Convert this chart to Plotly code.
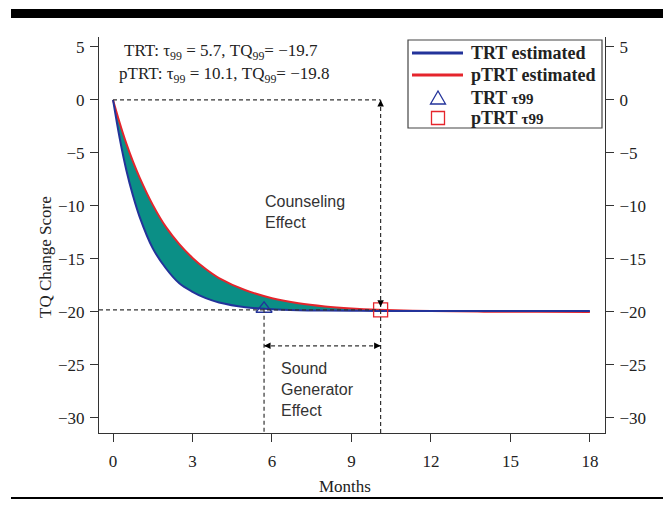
import plotly.graph_objects as go

# ---- data ----
months = [0, 0.25, 0.5, 0.75, 1, 1.5, 2, 2.5, 3, 3.5, 4, 5, 6, 7, 8, 9, 10, 12, 14, 16, 18]
trt_est = [0, -3.6, -6.6, -9.0, -11.0, -14.0, -15.9, -17.3, -18.1, -18.7, -19.1, -19.55, -19.74,
           -19.83, -19.87, -19.89, -19.9, -19.9, -19.9, -19.9, -19.9]
ptrt_est = [0, -2.15, -4.1, -5.8, -7.3, -9.9, -12.0, -13.6, -14.9, -15.95, -16.8, -17.95, -18.7,
            -19.18, -19.48, -19.67, -19.79, -19.92, -19.97, -19.99, -20.0]
tau99 = {"TRT": 5.7, "pTRT": 10.1}
tq99 = {"TRT": -19.7, "pTRT": -19.8}
y_ticks = [5, 0, -5, -10, -15, -20, -25, -30]
x_ticks = [0, 3, 6, 9, 12, 15, 18]
legend_labels = ["TRT estimated", "pTRT estimated",
                 "TRT <span style='font-size:15px'>τ99</span>",
                 "pTRT <span style='font-size:15px'>τ99</span>"]
x_range = [-0.53, 18.57]
y_range = [-31.42, 5.94]
bracket_y = -23.2

SERIF = "Liberation Serif, Times New Roman, serif"
SANS = "Liberation Sans, Arial, sans-serif"
BLUE = "#23339a"
RED = "#e5252c"
TEAL = "#0b8f86"
DASH = "#333333"

# plot-area pixel geometry (for paper-coordinate decorations)
L, T, W, H = 99, 37, 506, 396
def px(xp): return (xp - L) / W
def py(yp): return (T + H - yp) / H

fig = go.Figure()
fig.add_trace(go.Scatter(x=months, y=ptrt_est, mode="lines", name="pTRT estimated",
                         line=dict(color=RED, width=2, shape="spline")))
fig.add_trace(go.Scatter(x=months, y=trt_est, mode="lines", name="TRT estimated",
                         line=dict(color=BLUE, width=2, shape="spline"), fill="tonexty",
                         fillcolor=TEAL))
fig.add_trace(go.Scatter(x=[tau99["TRT"]], y=[tq99["TRT"]], mode="markers", name="TRT τ99",
                         marker=dict(symbol="triangle-up-open", size=14, color=BLUE,
                                     line=dict(width=1.3))))
fig.add_trace(go.Scatter(x=[tau99["pTRT"]], y=[tq99["pTRT"]], mode="markers", name="pTRT τ99",
                         marker=dict(symbol="square-open", size=14, color=RED,
                                     line=dict(width=1.3))))
# invisible trace for right axis
fig.add_trace(go.Scatter(x=[None], y=[None], yaxis="y2", showlegend=False))

shapes = []
dash = dict(color=DASH, width=1.2, dash="4px,3px")
shapes.append(dict(type="line", xref="x", yref="y", x0=0, x1=tau99["pTRT"], y0=0, y1=0, line=dash))
shapes.append(dict(type="line", xref="x", yref="y", x0=tau99["pTRT"], x1=tau99["pTRT"],
                   y0=0, y1=y_range[0], line=dash))
shapes.append(dict(type="line", xref="x", yref="y", x0=x_range[0], x1=tau99["pTRT"],
                   y0=tq99["pTRT"], y1=tq99["pTRT"], line=dash))
shapes.append(dict(type="line", xref="x", yref="y", x0=tau99["TRT"], x1=tau99["TRT"],
                   y0=tq99["TRT"], y1=y_range[0], line=dash))
shapes.append(dict(type="line", xref="x", yref="y", x0=tau99["TRT"], x1=tau99["pTRT"],
                   y0=bracket_y, y1=bracket_y, line=dash))
# decorative page rules
shapes.append(dict(type="rect", xref="paper", yref="paper", x0=px(11), x1=px(663), y0=py(18), y1=py(9),
                   fillcolor="black", line=dict(width=0)))
shapes.append(dict(type="line", xref="paper", yref="paper", x0=px(11), x1=px(663),
                   y0=py(498), y1=py(498), line=dict(color="black", width=2)))

# ---- legend box (drawn manually to match the compact spacing) ----
rows = [53, 75, 98, 118]
shapes.append(dict(type="rect", xref="paper", yref="paper", x0=px(408), x1=px(602), y0=py(128), y1=py(40),
                   fillcolor="white", line=dict(color="#444", width=1.2)))
shapes.append(dict(type="line", xref="paper", yref="paper", x0=px(412), x1=px(463), y0=py(rows[0]),
                   y1=py(rows[0]), line=dict(color=BLUE, width=3)))
shapes.append(dict(type="line", xref="paper", yref="paper", x0=px(412), x1=px(463), y0=py(rows[1]),
                   y1=py(rows[1]), line=dict(color=RED, width=3)))
cx = 438
shapes.append(dict(type="path", xref="paper", yref="paper",
                   path=f"M {px(cx-7.5)},{py(rows[2]+6)} L {px(cx+7.5)},{py(rows[2]+6)} L {px(cx)},{py(rows[2]-7)} Z",
                   line=dict(color=BLUE, width=1.3)))
shapes.append(dict(type="rect", xref="paper", yref="paper", x0=px(cx-6.5), x1=px(cx+6.5),
                   y0=py(rows[3]+6.5), y1=py(rows[3]-6.5), line=dict(color=RED, width=1.3)))

ann = []
for lbl, ry in zip(legend_labels, rows):
    ann.append(dict(x=px(469), y=py(ry), xref="paper", yref="paper", xanchor="left", yanchor="middle",
                    showarrow=False, text=f"<b>{lbl}</b>",
                    font=dict(family=SERIF, size=18, color="#222")))

def arrow(x, y, ax, ay):
    ann.append(dict(x=x, y=y, xref="x", yref="y", ax=ax, ay=ay, axref="pixel", ayref="pixel",
                    text="", showarrow=True, arrowhead=2, arrowsize=1.3, arrowwidth=1,
                    arrowcolor="black", standoff=0))
arrow(tau99["pTRT"], 0, 0, 7)
arrow(tau99["pTRT"], tq99["pTRT"] + 0.3, 0, -7)
arrow(tau99["TRT"], bracket_y, 7, 0)
arrow(tau99["pTRT"], bracket_y, -7, 0)

ann.append(dict(x=5.66, y=-10.6, xref="x", yref="y", xanchor="left", yanchor="middle", align="left",
                text="Counseling<br>Effect", showarrow=False, font=dict(family=SANS, size=16, color="#333")))
ann.append(dict(x=6.26, y=-27.3, xref="x", yref="y", xanchor="left", yanchor="middle", align="left",
                text="Sound<br>Generator<br>Effect", showarrow=False, font=dict(family=SANS, size=16, color="#333")))
ann.append(dict(x=px(221), y=py(52), xref="paper", yref="paper", xanchor="center",
                yanchor="middle", showarrow=False,
                text="TRT: τ<sub>99</sub> = 5.7, TQ<sub>99</sub>= −19.7",
                font=dict(family=SERIF, size=17, color="#222")))
ann.append(dict(x=px(224), y=py(75), xref="paper", yref="paper", xanchor="center",
                yanchor="middle", showarrow=False,
                text="pTRT: τ<sub>99</sub> = 10.1, TQ<sub>99</sub>= −19.8",
                font=dict(family=SERIF, size=17, color="#222")))
ann.append(dict(x=px(45), y=py(257), xref="paper", yref="paper", textangle=-90,
                xanchor="center", yanchor="middle", showarrow=False, text="TQ Change Score",
                font=dict(family=SERIF, size=17, color="#222")))
ann.append(dict(x=px(345), y=py(486), xref="paper", yref="paper",
                xanchor="center", yanchor="middle", showarrow=False, text="Months",
                font=dict(family=SERIF, size=17, color="#222")))

axis_common = dict(showline=True, linecolor="#333", linewidth=1, ticks="outside", ticklen=8,
                   tickcolor="#333", showgrid=False, zeroline=False,
                   tickfont=dict(family=SERIF, size=17, color="#222"))

fig.update_layout(
    width=663, height=511,
    margin=dict(l=L, r=663 - L - W, t=T, b=511 - T - H, autoexpand=False),
    paper_bgcolor="white", plot_bgcolor="white",
    xaxis=dict(range=x_range, tickvals=x_ticks, ticklabelstandoff=5, **axis_common),
    yaxis=dict(range=y_range, tickvals=y_ticks, ticklabelstandoff=2, **axis_common),
    yaxis2=dict(range=y_range, tickvals=y_ticks, overlaying="y", side="right",
                ticklabelstandoff=2, **axis_common),
    shapes=shapes, annotations=ann,
    showlegend=False,
)

fig.write_html("out.html")
